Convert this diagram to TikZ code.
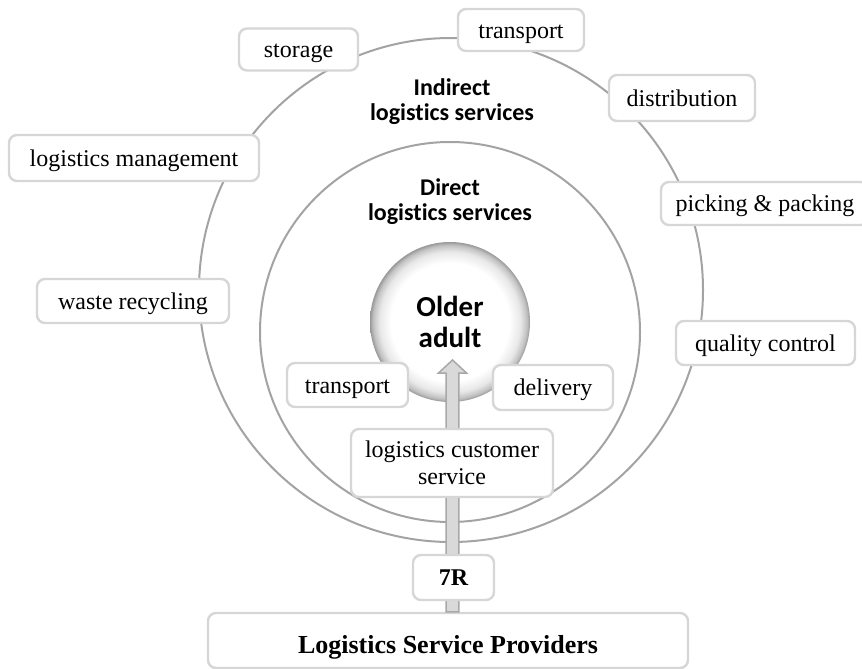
\documentclass[tikz,border=0pt]{standalone}
\usepackage{fontspec}
\setmainfont{Liberation Serif}
\newfontfamily\calfont[Ligatures=NoCommon]{Carlito}
\usetikzlibrary{calc}
\definecolor{ringgray}{HTML}{A3A3A3}
\definecolor{boxgray}{HTML}{D6D6D6}
\definecolor{arrowfill}{HTML}{D9D9D9}
\definecolor{arrowline}{HTML}{A8A8A8}
\pgfdeclareradialshading{ball}{\pgfpoint{0bp}{0bp}}{color(0bp)=(white); color(18.5bp)=(white); color(22bp)=(black!9); color(24bp)=(black!24); color(25bp)=(black!40); color(50bp)=(black!40)}
\begin{document}
\begin{tikzpicture}[x=1pt,y=-1pt,
  ring/.style={circle, draw=ringgray, line width=2pt, inner sep=0pt},
  tag/.style={draw=boxgray, line width=2.4pt, fill=white, rounded corners=8pt, inner sep=0pt,
    font=\fontsize{24}{27}\selectfont, text height=21.4pt, text depth=5.2pt},
  ringlabel/.style={align=center, font=\calfont\bfseries\fontsize{24}{25}\selectfont},
  bigarrow/.style={fill=arrowfill, draw=arrowline, line width=1.5pt, line join=miter}
]
\path[use as bounding box] (0,0) rectangle (862,669);
\clip (0,0) rectangle (862,669);
% rings
\node[ring, minimum size=504] (outer) at (451,290) {};
\node[ring, minimum size=380] (inner) at (450,332) {};
% labels
\node[ringlabel] (indirect) at (452,102) {Indirect\\logistics services};
\node[ringlabel] (direct) at (450,202) {Direct\\logistics services};
% centre
\node[circle, minimum size=160, inner sep=0pt, shading=ball, align=center,
  font=\calfont\bfseries\fontsize{29}{31}\selectfont] (older) at (450,322) {Older\\adult};
% provider box
\node[tag, minimum width=480, minimum height=55, font=\bfseries\fontsize{26}{28}\selectfont,
  text height=32.5pt, text depth=5.6pt] (lsp) at (448,640.5) {Logistics Service Providers};
% arrow
\coordinate (tip) at ($(older.center)+(2.5,38)$);
\coordinate (abase) at (tip |- lsp.north);
\draw[bigarrow] ($(abase)+(-6.3,0)$) -- ($(tip)+(-6.3,13)$) -- ($(tip)+(-14,13)$) -- (tip)
  -- ($(tip)+(14,13)$) -- ($(tip)+(6.3,13)$) -- ($(abase)+(6.3,0)$) -- cycle;
% boxes
\node[tag, minimum width=119, minimum height=42] (storage) at (298.5,49.5) {storage};
\node[tag, minimum width=126, minimum height=42] (transportA) at (521,30) {transport};
\node[tag, minimum width=146, minimum height=46] (distribution) at (682,98) {distribution};
\node[tag, minimum width=208, minimum height=43] (picking) at (765,203.5) {picking \& packing};
\node[tag, minimum width=179, minimum height=44] (quality) at (765.5,343) {quality control};
\node[tag, minimum width=250, minimum height=46] (logmgmt) at (134,158) {logistics management};
\node[tag, minimum width=192, minimum height=44] (waste) at (133,301) {waste recycling};
\node[tag, minimum width=121, minimum height=44] (transportB) at (347.5,385) {transport};
\node[tag, minimum width=120, minimum height=45] (delivery) at (553,387.5) {delivery};
\node[tag, minimum width=202, minimum height=68, align=center, text height={}, text depth={}] (lcs) at (452,463) {logistics customer\\service};
\node[tag, minimum width=81, minimum height=45, font=\bfseries\fontsize{24}{27}\selectfont] (sevenr) at (453.5,577.5) {7R};
\end{tikzpicture}
\end{document}
